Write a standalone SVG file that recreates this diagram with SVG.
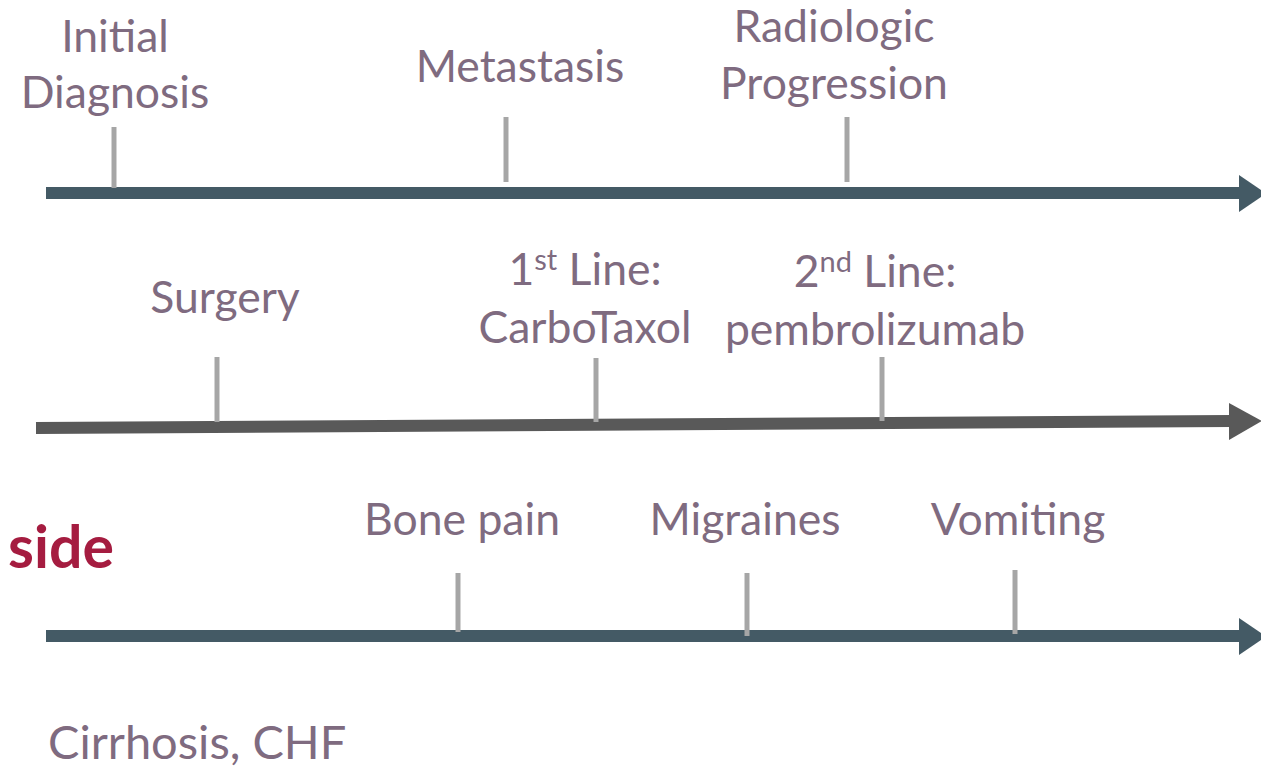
<svg xmlns="http://www.w3.org/2000/svg" width="1261" height="769" viewBox="0 0 1261 769">
<style>
.t{font-family:Lato,"Open Sans","Liberation Sans",sans-serif;font-size:44.5px;fill:#7F6B80;text-anchor:middle}
.tick{stroke:#A6A6A6;stroke-width:5}
.ax{stroke:#445A65;stroke-width:12}
</style>
<rect width="1261" height="769" fill="#fff"/>
<g id="connectors">
<line class="ax" x1="46" y1="193" x2="1241" y2="193"/>
<polygon points="1239,175 1266,193.5 1239,212" fill="#445A65"/>
<line x1="36" y1="428" x2="1231" y2="421" stroke="#595959" stroke-width="12"/>
<polygon points="1229,403 1262,421 1229,440" fill="#595959"/>
<line class="ax" x1="46" y1="636" x2="1241" y2="636"/>
<polygon points="1239,618 1266,636.5 1239,655" fill="#445A65"/>
</g>
<g id="initial-diagnosis"><line class="tick" x1="114" y1="127" x2="114" y2="188"/><text class="t" x="115" y="52">Initial</text><text class="t" x="115" y="108">Diagnosis</text></g>
<g id="metastasis"><line class="tick" x1="506" y1="117" x2="506" y2="182"/><text class="t" x="520" y="82">Metastasis</text></g>
<g id="radiologic-progression"><line class="tick" x1="847" y1="117" x2="847" y2="182"/><text class="t" x="834" y="42">Radiologic</text><text class="t" x="834" y="99">Progression</text></g>
<g id="surgery"><line class="tick" x1="217" y1="357" x2="217" y2="422"/><text class="t" x="225" y="313">Surgery</text></g>
<g id="first-line"><line class="tick" x1="596" y1="358" x2="596" y2="422"/><text class="t" x="585" y="285">1<tspan font-size="29" dy="-15">st</tspan><tspan dy="15"> Line:</tspan></text><text class="t" x="585" y="343">CarboTaxol</text></g>
<g id="second-line"><line class="tick" x1="882" y1="357" x2="882" y2="421"/><text class="t" x="875" y="287">2<tspan font-size="29" dy="-15">nd</tspan><tspan dy="15"> Line:</tspan></text><text class="t" x="875" y="345">pembrolizumab</text></g>
<g id="side"><text x="8" y="568" style="font-family:Lato,'Open Sans',sans-serif;font-size:59px;font-weight:bold;fill:#A51C40">side</text></g>
<g id="bone-pain"><line class="tick" x1="458" y1="573" x2="458" y2="632"/><text class="t" x="462" y="535">Bone pain</text></g>
<g id="migraines"><line class="tick" x1="747" y1="573" x2="747" y2="636"/><text class="t" x="745" y="535">Migraines</text></g>
<g id="vomiting"><line class="tick" x1="1015" y1="570" x2="1015" y2="634"/><text class="t" x="1018" y="535">Vomiting</text></g>
<g id="cirrhosis"><text class="t" x="48" y="759" style="text-anchor:start;font-size:47px">Cirrhosis, CHF</text></g>
</svg>
